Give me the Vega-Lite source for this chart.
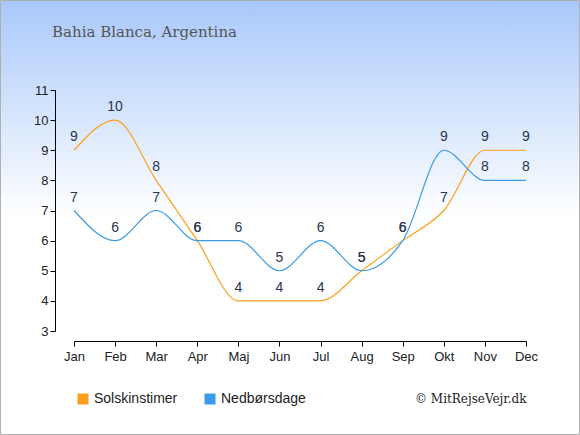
{
  "$schema": "https://vega.github.io/schema/vega-lite/v6.json",
  "autosize": {"type": "none"},
  "width": 452,
  "height": 241,
  "padding": {"left": 74, "top": 90, "right": 54, "bottom": 104},
  "background": "#ffffff",
  "title": {
    "text": "Bahia Blanca, Argentina",
    "anchor": "start",
    "frame": "group",
    "dx": -22,
    "offset": 0,
    "dy": 40,
    "zindex": 2,
    "font": "DejaVu Serif",
    "fontSize": 15,
    "fontWeight": "normal",
    "color": "#555555"
  },
  "datasets": {
    "weather": [
      {"month": "Jan", "series": "Solskinstimer", "value": 9},
      {"month": "Feb", "series": "Solskinstimer", "value": 10},
      {"month": "Mar", "series": "Solskinstimer", "value": 8},
      {"month": "Apr", "series": "Solskinstimer", "value": 6},
      {"month": "Maj", "series": "Solskinstimer", "value": 4},
      {"month": "Jun", "series": "Solskinstimer", "value": 4},
      {"month": "Jul", "series": "Solskinstimer", "value": 4},
      {"month": "Aug", "series": "Solskinstimer", "value": 5},
      {"month": "Sep", "series": "Solskinstimer", "value": 6},
      {"month": "Okt", "series": "Solskinstimer", "value": 7},
      {"month": "Nov", "series": "Solskinstimer", "value": 9},
      {"month": "Dec", "series": "Solskinstimer", "value": 9},
      {"month": "Jan", "series": "Nedbørsdage", "value": 7},
      {"month": "Feb", "series": "Nedbørsdage", "value": 6},
      {"month": "Mar", "series": "Nedbørsdage", "value": 7},
      {"month": "Apr", "series": "Nedbørsdage", "value": 6},
      {"month": "Maj", "series": "Nedbørsdage", "value": 6},
      {"month": "Jun", "series": "Nedbørsdage", "value": 5},
      {"month": "Jul", "series": "Nedbørsdage", "value": 6},
      {"month": "Aug", "series": "Nedbørsdage", "value": 5},
      {"month": "Sep", "series": "Nedbørsdage", "value": 6},
      {"month": "Okt", "series": "Nedbørsdage", "value": 9},
      {"month": "Nov", "series": "Nedbørsdage", "value": 8},
      {"month": "Dec", "series": "Nedbørsdage", "value": 8}
    ]
  },
  "data": {"name": "weather"},
  "encoding": {
    "x": {
      "field": "month",
      "type": "ordinal",
      "sort": null,
      "scale": {"type": "point", "padding": 0},
      "axis": {
        "title": "© MitRejseVejr.dk",
        "titleFont": "DejaVu Serif",
        "titleFontSize": 12,
        "titleFontWeight": "normal",
        "titleColor": "#222222",
        "titleAnchor": "end",
        "titleAlign": "right",
        "titleBaseline": "middle",
        "titleX": 452,
        "titleY": 57,
        "labelAngle": 0,
        "labelFont": "Liberation Sans",
        "labelFontSize": 13,
        "labelColor": "#222222",
        "labelPadding": 4,
        "domainColor": "#000000",
        "tickColor": "#000000",
        "tickSize": 5,
        "offset": 10,
        "grid": false,
        "zindex": 2
      }
    },
    "y": {
      "field": "value",
      "type": "quantitative",
      "scale": {"domain": [3, 11], "nice": false, "zero": false},
      "axis": {
        "title": null,
        "values": [3, 4, 5, 6, 7, 8, 9, 10, 11],
        "format": "d",
        "labelOverlap": false,
        "labelSeparation": 0,
        "labelFont": "Liberation Sans",
        "labelFontSize": 13,
        "labelColor": "#222222",
        "domainColor": "#000000",
        "tickColor": "#000000",
        "tickSize": 5,
        "offset": 19,
        "grid": false,
        "zindex": 2
      }
    }
  },
  "layer": [
    {
      "data": {"values": [{}]},
      "mark": {
        "type": "rect",
        "stroke": "#b0b0b0",
        "strokeWidth": 1,
        "fill": {
          "gradient": "linear",
          "x1": 0, "y1": 0, "x2": 0, "y2": 1,
          "stops": [
            {"offset": 0, "color": "#a8c8fa"},
            {"offset": 0.5, "color": "#ffffff"},
            {"offset": 1, "color": "#ffffff"}
          ]
        }
      },
      "encoding": {
        "x": {"value": -73.5},
        "x2": {"value": 505.5},
        "y": {"value": -89.5},
        "y2": {"value": 344.5}
      }
    },
    {
      "mark": {"type": "line", "interpolate": "monotone", "strokeWidth": 1.2},
      "encoding": {
        "color": {
          "field": "series",
          "type": "nominal",
          "scale": {
            "domain": ["Solskinstimer", "Nedbørsdage"],
            "range": ["#ff9e1a", "#3a9be8"]
          },
          "legend": {
            "title": null,
            "orient": "none",
            "direction": "horizontal",
            "legendX": 2,
            "legendY": 302,
            "zindex": 2,
            "symbolType": "square",
            "symbolSize": 121,
            "symbolStrokeWidth": 0,
            "symbolOpacity": 1,
            "labelFont": "Liberation Sans",
            "labelFontSize": 14,
            "labelColor": "#222222",
            "columnPadding": 25,
            "encode": {
              "symbols": {
                "update": {
                  "fill": {"scale": "color", "field": "value"},
                  "fillOpacity": {"value": 1}
                }
              }
            }
          }
        }
      }
    },
    {
      "mark": {
        "type": "text",
        "dy": -13,
        "font": "Liberation Sans",
        "fontSize": 14,
        "color": "#2a3450"
      },
      "encoding": {
        "text": {"field": "value", "type": "quantitative"}
      }
    }
  ],
  "config": {
    "view": {"stroke": null},
    "axisY": {"labelOverlap": false},
    "axis": {"labelOverlap": false}
  }
}
